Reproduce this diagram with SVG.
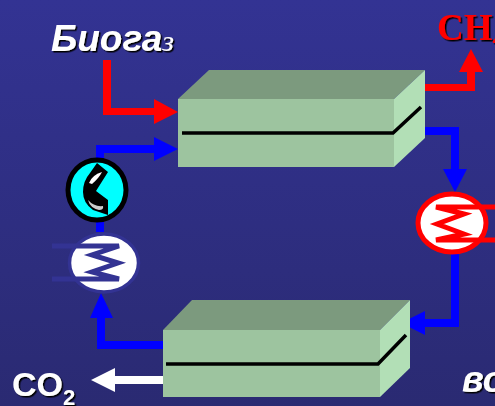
<svg xmlns="http://www.w3.org/2000/svg" width="495" height="406" viewBox="0 0 495 406">
<style>
.front{fill:#9dc49f}
.top{fill:#7c9a7e}
.side{fill:#b2dfb6}
.edge{fill:none;stroke:#000;stroke-width:3.5}
.lab{font-family:"Liberation Sans",Arial,sans-serif;font-weight:bold;fill:#fff;filter:url(#sh)}
.red{fill:#f00}.blue{fill:#00f}.white{fill:#fff}
</style>
<defs>
<linearGradient id="bg" x1="0" y1="0" x2="0" y2="1"><stop offset="0" stop-color="#333393"/><stop offset="1" stop-color="#2a2a72"/></linearGradient>
<filter id="sh" x="-10%" y="-10%" width="120%" height="120%"><feDropShadow dx="1.500" dy="1.500" stdDeviation="0.400" flood-color="#000"/></filter>
</defs>
<rect width="495" height="406" fill="url(#bg)"/>
<g id="connectors">
<path class="red" d="M103 60h8v48h43v-9l24 13-24 12v-9h-51z"/>
<path class="red" d="M425 84h42v-12h-8l12-23 12 23h-8v19h-50z"/>
<path class="blue" d="M420 127h39v42h8l-12 23-12-23h8v-34h-31z"/>
<path class="blue" d="M451 254h8v73h-34v8l-24-12 24-12v8h26z"/>
<path class="blue" d="M164 341v8h-67v-31h-7l11-25 12 25h-8v23z"/>
<path class="blue" d="M96 232v-87h58v-8l24 12-24 12v-8h-50v79z"/>
<path class="white" d="M164 376v8h-49v8l-24-12 24-12v8z"/>
</g>
<g id="absorber">
<polygon class="top" points="178,99 394,99 425,70 209,70"/>
<polygon class="side" points="394,99 425,70 425,138 394,167"/>
<rect class="front" x="178" y="99" width="216" height="68"/>
<polyline class="edge" points="182,133 393,133 421,107"/>
</g>
<g id="stripper">
<polygon class="top" points="163,330 380,330 410,300 192,300"/>
<polygon class="side" points="380,330 410,300 410,368 380,397"/>
<rect class="front" x="163" y="330" width="217" height="67"/>
<polyline class="edge" points="166,364 378,364 406,335"/>
</g>
<g id="heater">
<ellipse cx="452" cy="223" rx="34" ry="29" fill="#fff" stroke="#f00" stroke-width="5"/>
<polyline fill="none" stroke="#f00" stroke-width="5" points="495,207 436,207 464,214 437,224 464,234 436,240 495,240"/>
</g>
<g id="cooler">
<ellipse cx="104" cy="263" rx="34.500" ry="29" fill="#fff" stroke="#333393" stroke-width="3.500"/>
<polyline fill="none" stroke="#333393" stroke-width="5" points="52,246 119,246 92,255 118,263 92,272 119,279 52,279"/>
</g>
<g id="pump">
<ellipse cx="97" cy="190" rx="29" ry="30" fill="#0ff" stroke="#000" stroke-width="5"/>
<path d="M97 163L108 172 96 191 108 200V215L93 210Q83 203 83 192 83 181 90 173z" fill="#000"/>
<path d="M89 183Q92 175 102 172 99 178 92 184z" fill="#fff"/>
<path d="M88 200Q94 207 103 206 104 210 99 210 90 208 88 200z" fill="#ccc"/>
</g>
<g id="labels">
<text class="lab" x="51" y="51" font-size="37" font-style="italic">Биога<tspan font-family="Liberation Serif" font-size="30" font-weight="normal">з</tspan></text>
<text x="437" y="40" font-family="Liberation Serif,serif" font-weight="bold" font-size="37" fill="#f00" filter="url(#sh)">CH<tspan font-size="24" dy="6">4</tspan></text>
<text class="lab" x="12" y="396" font-size="34">CO<tspan font-size="22" dy="9">2</tspan></text>
<text class="lab" x="462" y="392" font-size="36" font-style="italic">во</text>
</g>
</svg>
